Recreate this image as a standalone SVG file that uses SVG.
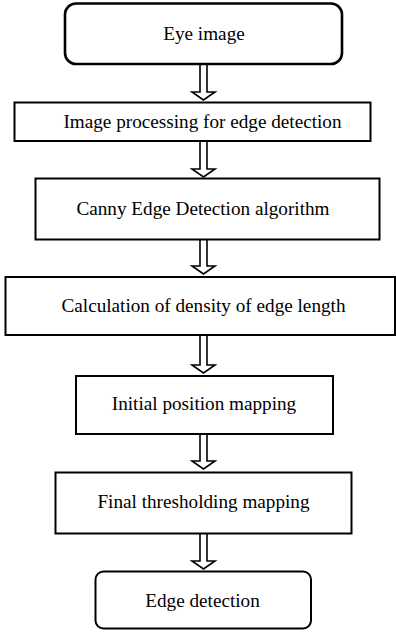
<svg xmlns="http://www.w3.org/2000/svg" width="396" height="633" viewBox="0 0 396 633">
<style>
.box{fill:#fff;stroke:#000;stroke-width:2}
.arr{fill:#fff;stroke:#000;stroke-width:1.6;stroke-linejoin:miter}
text{font-family:"Liberation Serif","Times New Roman",serif;font-size:19.2px;fill:#000;text-anchor:middle}
</style>
<rect width="396" height="633" fill="#fff"/>
<g id="connectors">
<path class="arr" d="M200,64 V92 H192 L203.5,100 L215,92 H207 V64"/>
<path class="arr" d="M200,141 V169 H192 L203.5,177 L215,169 H207 V141"/>
<path class="arr" d="M200,240 V266 H192 L203.5,274 L215,266 H207 V240"/>
<path class="arr" d="M200,335 V365 H192 L203.5,373 L215,365 H207 V335"/>
<path class="arr" d="M200,434 V461 H192 L203.5,469 L215,461 H207 V434"/>
<path class="arr" d="M200,534 V561 H192 L203.5,569 L215,561 H207 V534"/>
</g>
<g id="n1"><rect class="box" x="65" y="3.5" width="277" height="60.5" rx="11" style="stroke-width:2.6"/><text x="204" y="40">Eye image</text></g>
<g id="n2"><rect class="box" x="14.5" y="102.5" width="356" height="38.5"/><text x="202.5" y="127.5">Image processing for edge detection</text></g>
<g id="n3"><rect class="box" x="35.5" y="178.5" width="344" height="61"/><text x="203" y="215">Canny Edge Detection algorithm</text></g>
<g id="n4"><rect class="box" x="5.5" y="277" width="389.5" height="58"/><text x="203.5" y="312">Calculation of density of edge length</text></g>
<g id="n5"><rect class="box" x="76" y="376" width="257" height="58"/><text x="204" y="410">Initial position mapping</text></g>
<g id="n6"><rect class="box" x="55.5" y="472.5" width="296" height="61"/><text x="203.5" y="508">Final thresholding mapping</text></g>
<g id="n7"><rect class="box" x="95.5" y="571.5" width="215.5" height="57" rx="8"/><text x="202.5" y="606.5">Edge detection</text></g>
</svg>
